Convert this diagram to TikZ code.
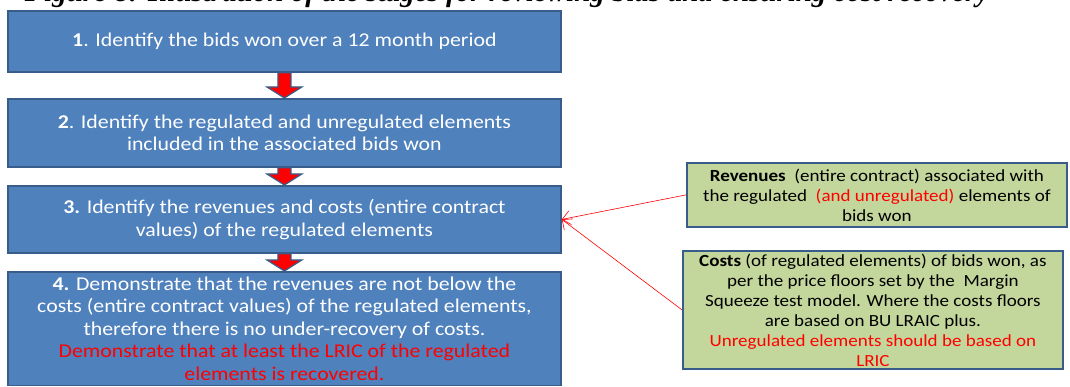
\documentclass[tikz,border=0pt]{standalone}
\usepackage{fontspec}
\setmainfont{Carlito}[FakeStretch=1.12]
\newfontfamily\titlefont{Liberation Serif}
\usetikzlibrary{calc, arrows.meta}
\definecolor{stagefill}{RGB}{79, 129, 189}
\definecolor{stageline}{RGB}{56, 93, 138}
\definecolor{notefill}{RGB}{195, 214, 155}
\definecolor{alert}{RGB}{255, 0, 0}

\begin{document}
\begin{tikzpicture}[x=1pt, y=-1pt,
  stage/.style={draw=stageline, fill=stagefill, line width=1.8pt, text=white,
    align=center, font=\fontsize{19.5}{22.5}\selectfont, minimum width=553pt,
    anchor=north west, inner sep=0pt},
  note/.style={draw=stageline, fill=notefill, line width=1.8pt, text=black,
    align=center, font=\fontsize{17}{20}\selectfont, anchor=north west, inner sep=0pt},
  stagearrow/.style={draw=stageline, fill=alert, line width=1.2pt},
  feed/.style={draw=alert, line width=0.6pt, -{Straight Barb[length=8pt, width=14pt]}}]
  \useasboundingbox (0, 0) rectangle (1070, 387);

  % caption, cut off by the top edge
  \node (title) [anchor=base, font=\titlefont\bfseries\itshape\fontsize{29}{32}\selectfont]
    at (507, 2) {Figure 8: Illustration of the stages for reviewing bids and ensuring cost recovery};

  \node (s1) [stage, minimum height=61pt] at (7, 10)
    {\textbf{1}. Identify the bids won over a 12 month period};
  \node (s2) [stage, minimum height=68pt] at (7, 98)
    {\textbf{2}. Identify the regulated and unregulated elements\\ included in the associated bids won};
  \node (s3) [stage, minimum height=67pt] at (7, 185)
    {\textbf{3.} Identify the revenues and costs (entire contract\\ values) of the regulated elements};
  \node (s4) [stage, inner ysep=5pt] at (7, 271)
    {\textbf{4.} Demonstrate that the revenues are not below the\\
     costs (entire contract values) of the regulated elements,\\
     therefore there is no under-recovery of costs.\\
     \textcolor{alert}{Demonstrate that at least the LRIC of the regulated}\\
     \textcolor{alert}{elements is recovered.}};

  % block arrows between the stages
  \draw [stagearrow] ($(s1.south)+(-6.5, 0)$) -- ($(s2.north)+(-6.5, -11)$) -- ($(s2.north)+(-17.5, -11)$)
    -- (s2.north) -- ($(s2.north)+(17.5, -11)$) -- ($(s2.north)+(6.5, -11)$) -- ($(s1.south)+(6.5, 0)$) -- cycle;
  \draw [stagearrow] ($(s2.south)+(-6.5, 0)$) -- ($(s3.north)+(-6.5, -11)$) -- ($(s3.north)+(-17.5, -11)$)
    -- (s3.north) -- ($(s3.north)+(17.5, -11)$) -- ($(s3.north)+(6.5, -11)$) -- ($(s2.south)+(6.5, 0)$) -- cycle;
  \draw [stagearrow] ($(s3.south)+(-6.5, 0)$) -- ($(s4.north)+(-6.5, -11)$) -- ($(s4.north)+(-17.5, -11)$)
    -- (s4.north) -- ($(s4.north)+(17.5, -11)$) -- ($(s4.north)+(6.5, -11)$) -- ($(s3.south)+(6.5, 0)$) -- cycle;

  \node (rev) [note, minimum width=380pt, minimum height=64pt] at (686, 162)
    {\textbf{Revenues}\ \ (entire contract) associated with\\
     the regulated\ \ \textcolor{alert}{(and unregulated)} elements of\\ bids won};
  \node (cost) [note, minimum width=380pt, minimum height=118pt] at (682, 250)
    {\textbf{Costs} (of regulated elements) of bids won, as\\
     per the price floors set by the\ \ Margin\\
     Squeeze test model. Where the costs floors\\
     are based on BU LRAIC plus.\\
     \textcolor{alert}{Unregulated elements should be based on}\\
     \textcolor{alert}{LRIC}};

  \draw [feed] (rev.west) -- (s3.east);
  \draw [feed] (cost.west) -- (s3.east);
\end{tikzpicture}
\end{document}
